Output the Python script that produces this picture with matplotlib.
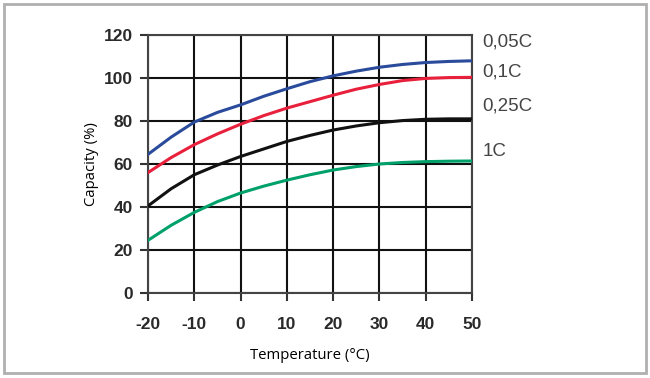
import numpy as np
import matplotlib.pyplot as plt
from matplotlib.patches import Rectangle

plt.rcParams['axes.unicode_minus'] = False

# Temperature (deg C) and capacity (%)
temp = [-20, -15, -10, -5, 0, 5, 10, 15, 20, 25, 30, 35, 40, 45, 50]
cap_005C = [64.5, 72.5, 79.5, 84, 87.5, 91.5, 95, 98.3, 101, 103.2, 105, 106.3, 107.2, 107.7, 108]
cap_01C = [56, 63, 69, 74, 78.5, 82.5, 86, 89, 92, 94.8, 97, 98.8, 99.8, 100.2, 100.3]
cap_025C = [40.5, 48.5, 55, 59.5, 63.5, 67, 70.5, 73.3, 75.8, 77.7, 79.2, 80.2, 80.8, 81, 81]
cap_1C = [24.5, 31.5, 37.5, 42.5, 46.5, 49.7, 52.5, 55, 57.2, 58.8, 60, 60.7, 61.1, 61.3, 61.4]

series = [
    ('0,05C', cap_005C, '#2a4b9b', 116.7),
    ('0,1C', cap_01C, '#e8203c', 103.0),
    ('0,25C', cap_025C, '#111111', 87.0),
    ('1C', cap_1C, '#00a06a', 66.0),
]

xticks = [-20, -10, 0, 10, 20, 30, 40, 50]
yticks = [0, 20, 40, 60, 80, 100, 120]

fig = plt.figure(figsize=(6.5, 3.78), dpi=100)
fig.patches.append(Rectangle((0.006, 0.012), 0.988, 0.978, transform=fig.transFigure,
                             fill=False, edgecolor='#b0b0b0', linewidth=2))

ax = fig.add_axes([0.2277, 0.2249, 0.4985, 0.6825])
for label, vals, color, ly in series:
    ax.plot(temp, vals, color=color, linewidth=2.2, zorder=3)
    ax.text(52.2, ly, label, color='#444444', fontsize=13.5, family='Liberation Sans',
            va='center', ha='left', clip_on=False)

ax.set_xlim(-20, 50)
ax.set_ylim(0, 120)
ax.set_xticks(xticks)
ax.set_yticks(yticks)
ax.grid(True, color='#111111', linewidth=1.5, zorder=1)
ax.set_axisbelow(True)
for s in ax.spines.values():
    s.set_color('#444444')
    s.set_linewidth(1.5)
ax.tick_params(axis='both', length=6, width=1.5, color='#333333',
               labelsize=12.5, labelcolor='#2a2a2a')
ax.tick_params(axis='x', pad=11)
ax.tick_params(axis='y', pad=5)
for t in ax.get_xticklabels() + ax.get_yticklabels():
    t.set_fontweight('bold')
    t.set_family('Liberation Sans')

ax.set_xlabel('Temperature (°C)', fontsize=10.7, family='Open Sans', labelpad=12)
ax.set_ylabel('Capacity (%)', fontsize=10.7, family='Open Sans', labelpad=3)

plt.savefig('out.png', dpi=100)
